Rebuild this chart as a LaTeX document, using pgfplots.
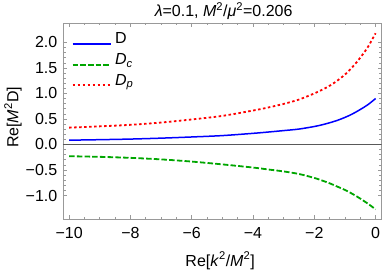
\documentclass[border=0pt]{standalone}
\usepackage{fontspec}
\setmainfont{Liberation Sans}
\usepackage{pgfplots}
\usepackage{pgfplotstable}
\pgfplotsset{compat=1.18}
\definecolor{mgreen}{rgb}{0,0.65,0}
\definecolor{framegray}{gray}{0.6}
\pgfplotstableread{
x D Dc Dp
-10 0.084 -0.230 0.330
-9 0.094 -0.242 0.355
-8 0.106 -0.262 0.385
-7 0.124 -0.292 0.430
-6 0.147 -0.335 0.490
-5 0.174 -0.390 0.560
-4 0.218 -0.452 0.665
-3.5 0.244 -0.490 0.725
-3 0.272 -0.528 0.795
-2.5 0.302 -0.578 0.880
-2 0.352 -0.655 1.000
-1.75 0.385 -0.705 1.070
-1.5 0.425 -0.760 1.150
-1.25 0.472 -0.825 1.250
-1 0.530 -0.890 1.370
-0.75 0.600 -0.970 1.520
-0.5 0.685 -1.060 1.700
-0.25 0.780 -1.160 1.910
0 0.900 -1.270 2.180
}\datatable
\begin{document}
\fontsize{16}{19}\selectfont
\begin{tikzpicture}
\begin{axis}[
  scale only axis, width=318.7pt, height=196pt,
  xmin=-10.2, xmax=0.2, ymin=-1.46, ymax=2.38,
  axis line style={framegray, line width=0.6pt},
  tick style={framegray, line width=0.6pt},
  major tick length=4pt, minor tick length=2.5pt,
  xtick={-10,-8,-6,-4,-2,0}, xticklabels={−10,−8,−6,−4,−2,0},
  ytick={-1,-0.5,0,0.5,1,1.5,2}, yticklabels={−1.0,−0.5,0.0,0.5,1.0,1.5,2.0},
  minor x tick num=3, minor y tick num=4,
  every tick label/.append style={font=\fontsize{16}{19}\selectfont, inner sep=0pt, text=black},
  xticklabel style={anchor=base, yshift=-19.5pt},
  yticklabel style={anchor=east, xshift=-5.5pt},
  every axis title shift=0pt,
  title={\textit{λ}=0.1, \textit{M}\textsuperscript{2}/\textit{μ}\textsuperscript{2}=0.206},
  title style={at={(axis description cs:0.504,1.0321)}, anchor=base, inner sep=0pt, font=\fontsize{16}{19}\selectfont},
  xlabel={Re[\textit{k}\textsuperscript{2}/\textit{M}\textsuperscript{2}]},
  xlabel style={at={(axis description cs:0.493,-0.2398)}, anchor=base, inner sep=0pt, font=\fontsize{16}{19}\selectfont},
  ylabel={Re[\textit{M}\textsuperscript{2}D]},
  ylabel style={at={(axis description cs:-0.1403,0.518)}, anchor=base, inner sep=0pt, font=\fontsize{16}{19}\selectfont},
  legend style={draw=none, fill=none, at={(axis description cs:0,1)}, anchor=north west,
    xshift=8.7pt, yshift=-9.5pt, inner sep=0pt, outer sep=0pt, column sep=3.5pt, row sep=0pt,
    nodes={inner sep=0pt, text height=11.5pt, text depth=9.2pt, anchor=base west},
    font=\fontsize{16}{19}\selectfont},
  legend image code/.code={\draw[#1] (0pt,0pt) -- (38pt,0pt);},
  legend cell align=left,
]
\addplot[black!65, line width=0.6pt, forget plot] coordinates {(-10.2,0) (0.2,0)};
\addplot[blue, line width=1.5pt, smooth, forget plot] table[x=x, y=D] {\datatable};
\addplot[mgreen, line width=1.8pt, smooth, dash pattern=on 5.5pt off 2.2pt, forget plot] table[x=x, y=Dc] {\datatable};
\addplot[red, line width=1.8pt, smooth, dash pattern=on 2.5pt off 2.5pt, forget plot] table[x=x, y=Dp] {\datatable};
\addlegendimage{draw=blue, line width=1.5pt}
\addlegendentry{D}
\addlegendimage{draw=mgreen, line width=1.8pt, dash pattern=on 5.5pt off 2.2pt}
\addlegendentry{\textit{D}\textsubscript{\textit{c}}}
\addlegendimage{draw=red, line width=1.8pt, dash pattern=on 2.5pt off 2.5pt}
\addlegendentry{\textit{D}\textsubscript{\textit{p}}}
\end{axis}
\pgfresetboundingbox
\path[use as bounding box] ([xshift=-63pt,yshift=-51pt]current axis.south west) rectangle ([xshift=0.3pt,yshift=23pt]current axis.north east);
\end{tikzpicture}
\end{document}
